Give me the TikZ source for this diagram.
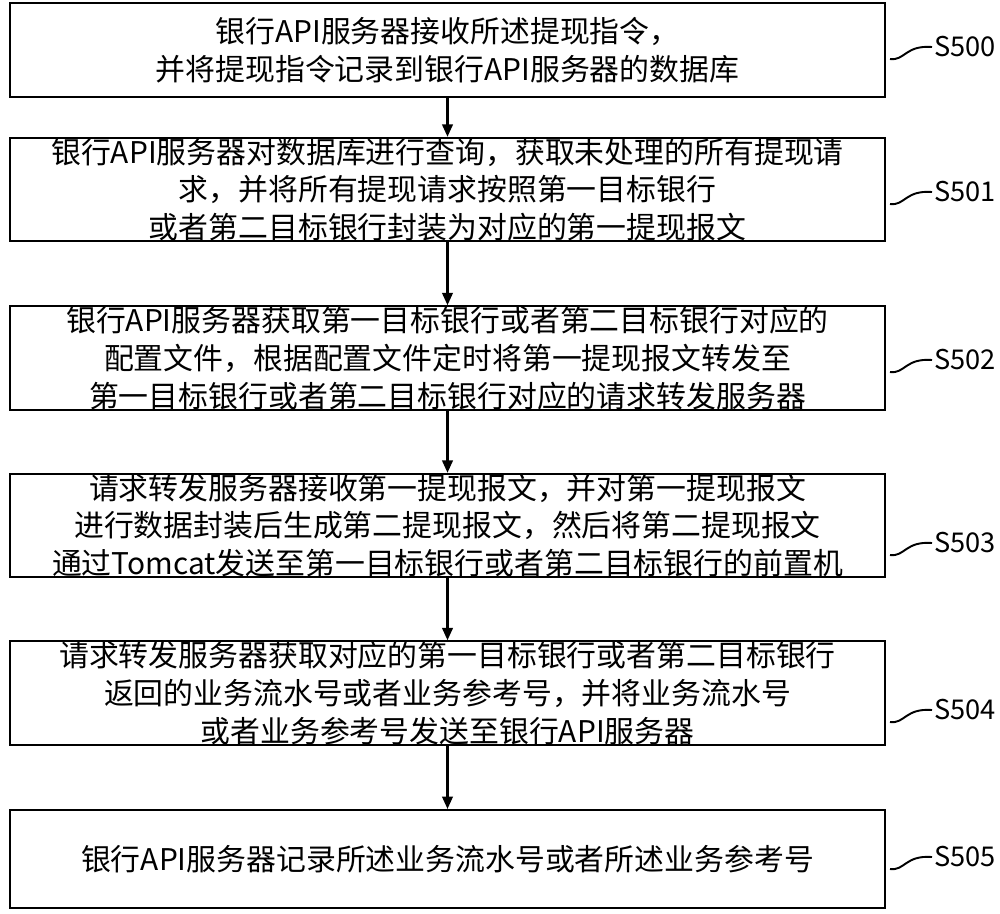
\documentclass[tikz,border=0pt]{standalone}
\usepackage{fontspec}
\setmainfont{Noto Sans CJK SC}
\usetikzlibrary{arrows.meta}
\begin{document}
\begin{tikzpicture}[x=0.02cm,y=-0.02cm,
  box/.style={draw,line width=1.2pt,minimum width=875*0.02cm,align=center,font=\fontsize{17}{21.5}\selectfont,inner sep=0pt},
  arr/.style={-{Triangle[length=7pt,width=6pt]},line width=1.2pt},
  lab/.style={font=\fontsize{15.5}{16}\selectfont,anchor=west,inner sep=1pt},
  wav/.style={line width=1.1pt}]
\useasboundingbox (0,0) rectangle (1000,913);
\node[box,minimum height=94*0.02cm] (b0) at (447.5,50) {银行API服务器接收所述提现指令，\\并将提现指令记录到银行API服务器的数据库};
\node[box,minimum height=95*0.02cm] (b1) at (447.5,189.5) {银行API服务器对数据库进行查询，获取未处理的所有提现请\\求，并将所有提现请求按照第一目标银行\\或者第二目标银行封装为对应的第一提现报文};
\node[box,minimum height=96*0.02cm] (b2) at (447.5,358) {银行API服务器获取第一目标银行或者第二目标银行对应的\\配置文件，根据配置文件定时将第一提现报文转发至\\第一目标银行或者第二目标银行对应的请求转发服务器};
\node[box,minimum height=97*0.02cm] (b3) at (447.5,525.5) {请求转发服务器接收第一提现报文，并对第一提现报文\\进行数据封装后生成第二提现报文，然后将第二提现报文\\通过Tomcat发送至第一目标银行或者第二目标银行的前置机};
\node[box,minimum height=96*0.02cm] (b4) at (447.5,693) {请求转发服务器获取对应的第一目标银行或者第二目标银行\\返回的业务流水号或者业务参考号，并将业务流水号\\或者业务参考号发送至银行API服务器};
\node[box,minimum height=98*0.02cm] (b5) at (447.5,859) {银行API服务器记录所述业务流水号或者所述业务参考号};
\foreach \a/\b in {b0/b1,b1/b2,b2/b3,b3/b4,b4/b5} \draw[arr] (\a.south) -- (\b.north);
\foreach \n/\y/\t in {0/47/S500,1/192/S501,2/360/S502,3/543/S503,4/710/S504,5/857/S505}{
  \coordinate (w\n) at (890,\y+12);
  \node[lab] (s\n) at (932,\y) {\t};
  \draw[wav] (w\n) .. controls (905,\y+14) and (905,\y-2) .. (s\n.west);
}
\end{tikzpicture}
\end{document}
